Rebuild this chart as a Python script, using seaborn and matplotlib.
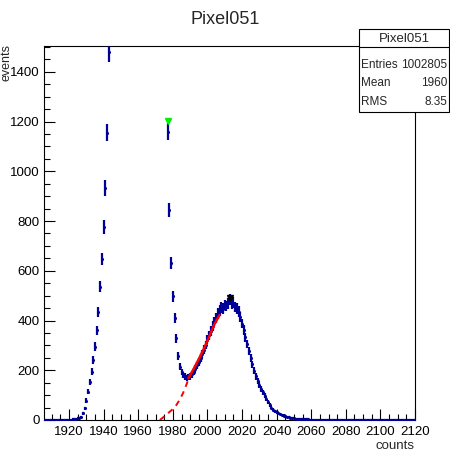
import numpy as np
import pandas as pd
import matplotlib
matplotlib.use("Agg")
import matplotlib.pyplot as plt
from matplotlib.patches import Rectangle
from matplotlib.lines import Line2D
from matplotlib.ticker import MultipleLocator
import seaborn as sns

# Histogram values (bins of 1 count).
# Bins 1944..1976 are far above the visible range and are left out.
left_bins = list(range(1906, 1944))
left_counts = [0, 0, 1, 0, 1, 1, 0, 1, 1, 1, 1, 1,
               1, 2, 2, 2, 3, 4, 5, 7, 9, 14, 27, 47, 78, 114, 154, 194,
               241, 295, 360, 435, 536, 648, 776, 933, 1155, 1480]

right_bins = list(range(1977, 2121))
right_counts = [1160, 844, 632, 498, 410, 328, 258, 214, 193, 181,
                174, 168, 172, 176, 184, 195, 207, 220, 234, 248,
                266, 283, 302, 322, 340, 358, 378, 396, 412, 428,
                440, 452, 448, 462, 458, 470, 484, 466, 472, 455,
                449, 436, 415, 388, 362, 332, 305, 278, 250, 224,
                199, 176, 156, 140, 125, 111, 97, 84, 72, 60,
                50, 42, 36, 31, 27, 23, 20, 18, 15, 13,
                11, 9, 8, 7, 6, 5, 5, 4, 4, 3,
                3, 3, 2, 2,
                2, 2, 1, 2, 1, 2, 1, 1, 2, 1,
                1, 1, 2, 1, 1, 1, 2, 1, 1, 2,
                2, 1, 2, 2, 1, 2, 1, 1, 2, 1,
                1, 1, 0, 1, 1, 0, 1, 0, 1, 0,
                0, 1, 0, 0, 1, 0, 0, 0, 1, 0,
                0, 0, 1, 0, 0, 0, 0, 1, 0, 0]

# Fit curve points
fit_dash_x = [1972.5, 1975, 1978, 1980, 1982, 1984, 1986, 1988, 1989]
fit_dash_y = [0, 14, 32, 44, 60, 82, 110, 145, 165]
fit_solid_x = [1989, 1992, 1995, 1998, 2001, 2004, 2007]
fit_solid_y = [168, 205, 245, 288, 335, 385, 422]

# markers
green_x, green_y = 1977, 1203
black_x, black_y = 2013, 490

stats_rows = [("Entries", "1002805"), ("Mean", "1960"), ("RMS", "8.35")]

sns.set_theme(style="ticks")
plt.rcParams['font.family'] = ['Liberation Sans', 'DejaVu Sans']

W, H = 450, 455
fig = plt.figure(figsize=(W / 100, H / 100), dpi=100)
ax = fig.add_axes([44 / W, 1 - 420 / H, (415 - 44) / W, (420 - 46) / H])

hist = pd.DataFrame({
    "counts_bin": left_bins + right_bins,
    "events": left_counts + right_counts,
})
hist["err"] = np.sqrt(hist["events"])

col = "#000099"
ax.errorbar(hist["counts_bin"], hist["events"], yerr=hist["err"], xerr=0.5,
            fmt="none", ecolor=col, elinewidth=1.6, capsize=0, zorder=3)
sns.scatterplot(data=hist, x="counts_bin", y="events", ax=ax, color=col,
                s=5, linewidth=0, zorder=4)

fit_dash = pd.DataFrame({"x": fit_dash_x, "y": fit_dash_y})
fit_solid = pd.DataFrame({"x": fit_solid_x, "y": fit_solid_y})
sns.lineplot(data=fit_dash, x="x", y="y", ax=ax, color="#ff0000", lw=1.4,
             linestyle=(0, (3, 2.5)), zorder=5)
sns.lineplot(data=fit_solid, x="x", y="y", ax=ax, color="#ff0000", lw=1.8, zorder=5)

ax.plot([green_x], [green_y], marker="v", color="#00ee00", ms=5, ls="none", zorder=6)
ax.plot([black_x], [black_y], marker="v", color="black", ms=4, ls="none", zorder=6)

ax.set_xlim(1905.5, 2120)
ax.set_ylim(0, 1504)
ax.set_xlabel("")
ax.set_ylabel("")
ax.xaxis.set_major_locator(MultipleLocator(20))
ax.xaxis.set_minor_locator(MultipleLocator(5))
ax.yaxis.set_major_locator(MultipleLocator(200))
ax.yaxis.set_minor_locator(MultipleLocator(50))
ax.tick_params(which="both", direction="in", colors="black", labelsize=9.5,
               top=False, right=False)
ax.tick_params(which="major", length=8, width=0.8)
ax.tick_params(which="minor", length=4.5, width=0.8)
ax.tick_params(axis="x", pad=4)
ax.tick_params(axis="y", pad=3)
for s in ax.spines.values():
    s.set_visible(True)
    s.set_color("black")
    s.set_linewidth(0.8)

fig.text(225 / W, 1 - 19 / H, "Pixel051", ha="center", va="center", fontsize=13)
fig.text(6 / W, 1 - 44 / H, "events", rotation=90, ha="center", va="top", fontsize=9)
fig.text(414 / W, 1 - 446 / H, "counts", ha="right", va="center", fontsize=9.5)

# stats box
bx0, bx1, by0, by1 = 359, 449, 29, 112
fig.patches.append(Rectangle((bx0 / W, 1 - by1 / H), (bx1 - bx0) / W, (by1 - by0) / H,
                             transform=fig.transFigure, facecolor="white",
                             edgecolor="black", lw=0.8, zorder=10))
fig.lines.append(Line2D([bx0 / W, bx1 / W], [1 - 47 / H, 1 - 47 / H],
                        transform=fig.transFigure, color="black", lw=0.8, zorder=11))
fig.text((bx0 + bx1) / 2 / W, 1 - 39 / H, "Pixel051", ha="center", va="center",
         fontsize=9.5, zorder=12)
for i, (name, val) in enumerate(stats_rows):
    yy = 1 - (65 + 18.5 * i) / H
    fig.text(361 / W, yy, name, ha="left", va="center", fontsize=8.5, zorder=12)
    fig.text(447 / W, yy, val, ha="right", va="center", fontsize=8.5, zorder=12)

fig.savefig("out.png", dpi=100, facecolor="white")
